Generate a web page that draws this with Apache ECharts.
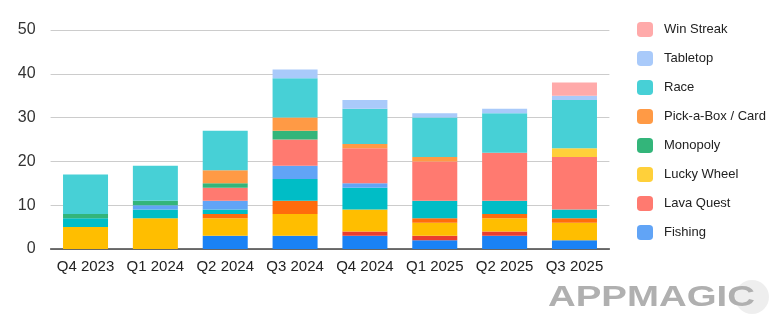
<!DOCTYPE html>
<html>
<head>
<meta charset="utf-8">
<script src="https://cdn.jsdelivr.net/npm/echarts@6/dist/echarts.min.js"></script>
<style>html,body{margin:0;padding:0;background:#fff;}#c{width:780px;height:325px;}</style>
</head>
<body>
<div id="c"></div>
<script>
var categories = ['Q4 2023','Q1 2024','Q2 2024','Q3 2024','Q4 2024','Q1 2025','Q2 2025','Q3 2025'];
var yTicks = [0,10,20,30,40,50];
// lower (darker) stack group, not shown in legend
var baseFishing = [0,0,3,3,3,2,3,2];
var baseLavaQuest = [0,0,0,0,1,1,1,0];
var baseLuckyWheel = [5,7,4,5,5,3,3,4];
var basePickABox = [0,0,1,3,0,1,1,1];
var baseRace = [2,2,1,5,5,4,3,2];
// legend group
var fishing = [0,1,2,3,1,0,0,0];
var lavaQuest = [0,0,3,6,8,9,11,12];
var luckyWheel = [0,0,0,0,0,0,0,2];
var monopoly = [1,1,1,2,0,0,0,0];
var pickABox = [0,0,3,3,1,1,0,0];
var race = [9,8,9,9,8,9,9,11];
var tabletop = [0,0,0,2,2,1,1,1];
var winStreak = [0,0,0,0,0,0,0,3];

var seriesDefs = [
  ['Fishing (base)', baseFishing, '#1a82f5'],
  ['Lava Quest (base)', baseLavaQuest, '#ea3d2f'],
  ['Lucky Wheel (base)', baseLuckyWheel, '#ffbe00'],
  ['Pick-a-Box / Card (base)', basePickABox, '#ff6c0c'],
  ['Race (base)', baseRace, '#00bdc6'],
  ['Fishing', fishing, '#61a4f6'],
  ['Lava Quest', lavaQuest, '#ff7a70'],
  ['Lucky Wheel', luckyWheel, '#ffd03a'],
  ['Monopoly', monopoly, '#33b57a'],
  ['Pick-a-Box / Card', pickABox, '#ff9a45'],
  ['Race', race, '#47d0d6'],
  ['Tabletop', tabletop, '#a9cafa'],
  ['Win Streak', winStreak, '#ffaaaa']
];
var legendNames = ['Win Streak','Tabletop','Race','Pick-a-Box / Card','Monopoly','Lucky Wheel','Lava Quest','Fishing'];

var chart = echarts.init(document.getElementById('c'), null, {renderer: 'canvas'});
chart.setOption({
  animation: false,
  backgroundColor: '#ffffff',
  textStyle: {fontFamily: 'Liberation Sans, Arial, sans-serif'},
  grid: {left: 50.6, right: 170.6, top: 30, bottom: 76, containLabel: false},
  legend: {
    data: legendNames,
    orient: 'vertical',
    left: 632, top: 17,
    itemWidth: 16, itemHeight: 15, itemGap: 14,
    icon: 'roundRect',
    textStyle: {fontSize: 13, color: '#222', padding: [0,0,0,6], fontFamily: 'Liberation Sans, Arial, sans-serif'}
  },
  xAxis: {
    type: 'category',
    data: categories,
    axisTick: {show: false},
    axisLine: {lineStyle: {color: '#444', width: 1.5}},
    axisLabel: {fontSize: 15, color: '#222', margin: 10, interval: 0}
  },
  yAxis: {
    type: 'value',
    min: yTicks[0], max: yTicks[yTicks.length-1], interval: 10,
    axisLine: {show: false},
    axisTick: {show: false},
    axisLabel: {fontSize: 16, color: '#333', margin: 15},
    splitLine: {lineStyle: {color: '#cccccc', width: 1}}
  },
  series: seriesDefs.map(function(d){
    return {name: d[0], type: 'bar', stack: 'total', data: d[1], barWidth: 45,
      itemStyle: {color: d[2]}, emphasis: {disabled: true}};
  }),
  graphic: [
    {type: 'circle', shape: {cx: 752, cy: 297, r: 17}, style: {fill: 'rgba(205,205,205,0.35)'}},
    {type: 'text', left: 548, top: 283, scaleX: 1.28,
     style: {text: 'APPMAGIC', font: 'bold 30px "Liberation Sans", Arial, sans-serif', fill: '#b0b0b0'}}
  ]
});
</script>
</body>
</html>
